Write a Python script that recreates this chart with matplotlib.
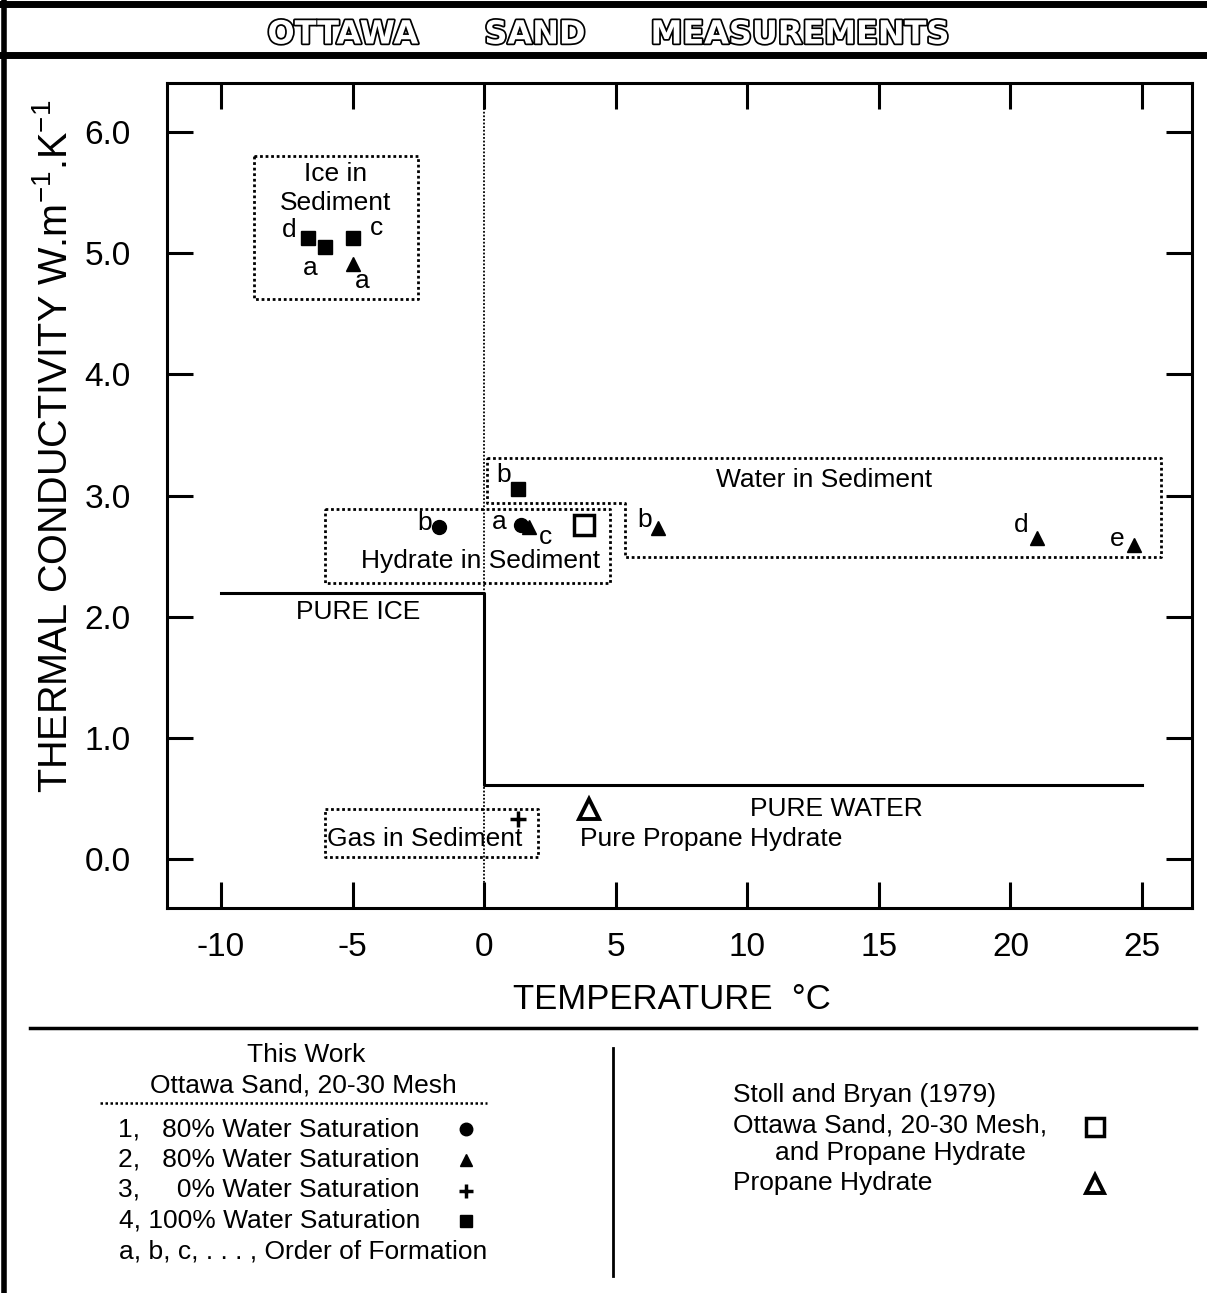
import numpy as np
import matplotlib
matplotlib.use("Agg")
import matplotlib.pyplot as plt
import matplotlib.patheffects as pe

plt.rcParams['font.family'] = ['Liberation Sans', 'DejaVu Sans']
plt.rcParams['mathtext.default'] = 'regular'

# mesures de ce travail (temperature en degC, conductivite en W/m/K)
serie1_t = [-1.7, 1.4]
serie1_k = [2.74, 2.76]
serie1_lettres = ["b", "a"]

serie2_t = [-5.0, 1.7, 6.6, 21.0, 24.7]
serie2_k = [4.91, 2.74, 2.73, 2.65, 2.59]
serie2_lettres = ["a", "c", "b", "d", "e"]

serie3_t = [1.3]
serie3_k = [0.33]

serie4_t = [-6.7, -6.05, -5.0, 1.3]
serie4_k = [5.12, 5.05, 5.12, 3.05]
serie4_lettres = ["d", "a", "c", "b"]

# Stoll et Bryan (1979)
stoll_sable_t = [3.8]
stoll_sable_k = [2.76]
stoll_propane_t = [4.0]
stoll_propane_k = [0.42]

# glace pure / eau pure
glace_t = [-10, 0]
glace_k = [2.2, 2.2]
eau_t = [0, 25]
eau_k = [0.61, 0.61]

x_ticks = [-10, -5, 0, 5, 10, 15, 20, 25]
y_ticks = [0.0, 1.0, 2.0, 3.0, 4.0, 5.0, 6.0]

# decalage des lettres (pixels, y vers le haut) par rapport au point
decal1 = [(-15, 4), (-22, 3)]
decal2 = [(10, -17), (17, -10), (-13, 8), (-16, 13), (-17, 6)]
decal4 = [(-19, 8), (-15, -21), (24, 10), (-15, 14)]

fig = plt.figure(figsize=(12.07, 12.93), dpi=100)

# cadre general, titre et legende en coordonnees pixels
cadre = fig.add_axes([0, 0, 1, 1], zorder=0)
cadre.set_xlim(0, 1207)
cadre.set_ylim(1293, 0)
cadre.axis("off")
cadre.plot([0, 1207], [4, 4], color="black", lw=5)
cadre.plot([0, 1207], [55, 55], color="black", lw=5)
cadre.plot([4, 4], [0, 1293], color="black", lw=4)
cadre.plot([30, 1196], [1028, 1028], color="black", lw=2.5)
cadre.plot([613, 613], [1048, 1276], color="black", lw=2)
for mot, xc in [("OTTAWA", 343), ("SAND", 535), ("MEASUREMENTS", 800)]:
    cadre.text(xc, 35, mot, ha="center", va="center", fontsize=23,
               family="DejaVu Sans", color="white", fontweight="bold",
               path_effects=[pe.withStroke(linewidth=2.5, foreground="black")])

taille = 19
cadre.text(306, 1055, "This Work", ha="center", va="center", fontsize=taille)
cadre.text(303, 1085, "Ottawa Sand, 20-30 Mesh", ha="center", va="center", fontsize=taille)
cadre.plot([100, 487], [1103, 1103], color="black", lw=1.8, ls=(0, (1, 1)))
lignes_legende = ["1,   80% Water Saturation", "2,   80% Water Saturation",
                  "3,     0% Water Saturation", "4, 100% Water Saturation"]
marques_legende = ["o", "^", "P", "s"]
for i, (texte, m) in enumerate(zip(lignes_legende, marques_legende)):
    yy = 1129 + i * 30.5
    cadre.text(420, yy, texte, ha="right", va="center", fontsize=taille)
    if m == "P":
        cadre.plot(466, yy + 1, marker="+", ms=10, mew=2.5, color="black")
    else:
        cadre.plot(466, yy, marker=m, ms=9, color="black", ls="none")
cadre.text(303, 1251, "a, b, c, . . . , Order of Formation", ha="center", va="center",
           fontsize=taille)

cadre.text(733, 1095, "Stoll and Bryan (1979)", ha="left", va="center", fontsize=taille)
cadre.text(733, 1125, "Ottawa Sand, 20-30 Mesh,", ha="left", va="center", fontsize=taille)
cadre.text(775, 1153, "and Propane Hydrate", ha="left", va="center", fontsize=taille)
cadre.text(733, 1183, "Propane Hydrate", ha="left", va="center", fontsize=taille)
cadre.plot(1095, 1127, marker="s", ms=13, mfc="white", mec="black", mew=2.5)
cadre.plot(1095, 1184, marker="^", ms=13, mfc="white", mec="black", mew=2.8)

# graphique principal
ax = fig.add_axes([167 / 1207, 1 - 908 / 1293, 1025 / 1207, 825 / 1293], zorder=1)
ax.set_xlim(-12.05, 26.9)
ax.set_ylim(-0.4, 6.4)
ax.set_xticks(x_ticks)
ax.set_xticklabels([str(v) for v in x_ticks])
ax.set_yticks(y_ticks)
ax.set_yticklabels(["%.1f" % v for v in y_ticks])
ax.tick_params(direction="in", length=19, width=2.2, top=True, right=True,
               labelsize=24)
ax.tick_params(axis="x", pad=17)
ax.tick_params(axis="y", pad=26)
for s in ax.spines.values():
    s.set_linewidth(2.2)

ax.set_xlabel("TEMPERATURE  \u00b0C", fontsize=25)
ax.xaxis.set_label_coords(0.493, -0.091)
ax.set_ylabel("THERMAL CONDUCTIVITY W.m$^{-1}$.K$^{-1}$", fontsize=28.5)
ax.yaxis.set_label_coords(-0.09, 0.56)

pointille = (0, (1, 1))
ax.axvline(0, color="black", lw=1.3, ls=pointille)

# courbes glace pure et eau pure
ax.plot(glace_t + [0] + eau_t, glace_k + [eau_k[0]] + eau_k, color="black", lw=2.2)

# zones
def zone(xs, ys):
    ax.plot(xs + [xs[0]], ys + [ys[0]], color="black", lw=2.0, ls=pointille)

zone([-8.75, -2.51, -2.51, -8.75], [5.80, 5.80, 4.62, 4.62])
zone([0.11, 25.74, 25.74, 5.36, 5.36, 0.11], [3.31, 3.31, 2.49, 2.49, 2.94, 2.94])
zone([-6.05, 4.79, 4.79, -6.05], [2.89, 2.89, 2.28, 2.28])
zone([-6.05, 2.05, 2.05, -6.05], [0.42, 0.42, 0.02, 0.02])

t_zone = 19
ax.text(-5.63, 5.53, "Ice in\nSediment", ha="center", va="center", fontsize=t_zone,
        linespacing=1.25)
ax.text(12.9, 3.13, "Water in Sediment", ha="center", va="center", fontsize=t_zone)
ax.text(-0.15, 2.46, "Hydrate in Sediment", ha="center", va="center", fontsize=t_zone)
ax.text(-2.24, 0.17, "Gas in Sediment", ha="center", va="center", fontsize=t_zone)
ax.text(-4.79, 2.04, "PURE ICE", ha="center", va="center", fontsize=t_zone)
ax.text(13.4, 0.42, "PURE WATER", ha="center", va="center", fontsize=t_zone)
ax.text(8.63, 0.17, "Pure Propane Hydrate", ha="center", va="center", fontsize=t_zone)

# points
ax.plot(serie1_t, serie1_k, "o", color="black", ms=10, zorder=3)
ax.plot(serie2_t, serie2_k, "^", color="black", ms=10, zorder=4)
ax.plot(serie3_t, serie3_k, "+", color="black", ms=12, mew=2.5, zorder=3)
ax.plot(serie4_t, serie4_k, "s", color="black", ms=10, zorder=3)
ax.plot(stoll_sable_t, stoll_sable_k, "s", mfc="white", mec="black", ms=15, mew=2.5)
ax.plot(stoll_propane_t, stoll_propane_k, "^", mfc="white", mec="black", ms=14, mew=2.8)

for ts, ks, lettres, decal in [(serie1_t, serie1_k, serie1_lettres, decal1),
                               (serie2_t, serie2_k, serie2_lettres, decal2),
                               (serie4_t, serie4_k, serie4_lettres, decal4)]:
    for t, k, l, d in zip(ts, ks, lettres, decal):
        ax.annotate(l, (t, k), xytext=d, textcoords="offset pixels",
                    ha="center", va="center", fontsize=19)

fig.savefig("out.png", dpi=100)
